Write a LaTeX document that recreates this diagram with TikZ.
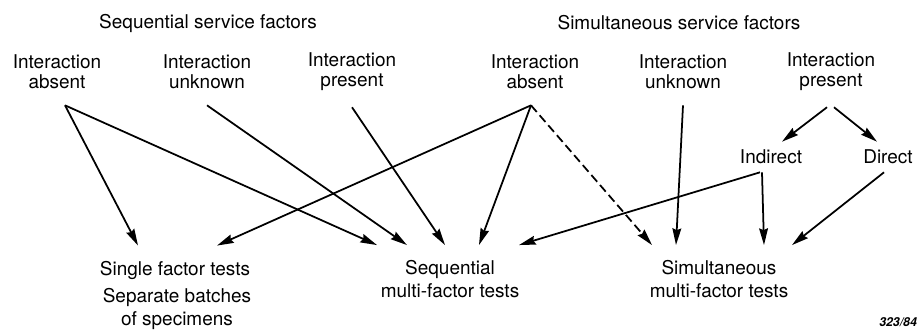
\documentclass[tikz,border=0pt]{standalone}
\usepackage{fontspec}
\setmainfont{TeX Gyre Heros}
\usetikzlibrary{arrows.meta, calc}
\tikzset{
  hd/.style   = {font=\fontsize{10.8pt}{12pt}\selectfont, align=center},
  fac/.style  = {font=\fontsize{10.8pt}{11.5pt}\selectfont, align=center,
                 inner xsep=2pt, inner ysep=9pt},
  sub/.style  = {font=\fontsize{10.8pt}{12pt}\selectfont, align=center,
                 inner xsep=2pt, inner ysep=4.5pt},
  res/.style  = {font=\fontsize{10.8pt}{13pt}\selectfont, align=center,
                 inner xsep=2pt, inner ysep=8.5pt},
  arr/.style  = {-{Stealth[length=9.5pt,width=5pt,inset=1pt]}, line width=1pt},
  darr/.style = {arr, dash pattern=on 5pt off 2.5pt},
}
\begin{document}
\begin{tikzpicture}[x=0.02cm, y=-0.02cm]
  \useasboundingbox (0,0) rectangle (919,331);

  \node[hd] (seqhd) at (208,23) {Sequential service factors};
  \node[hd] (simhd) at (679,23) {Simultaneous service factors};

  \node[fac] (qabs) at (57,72)  {Interaction\\absent};
  \node[fac] (qunk) at (207,72) {Interaction\\unknown};
  \node[fac] (qpre) at (352,72) {Interaction\\present};
  \node[fac] (mabs) at (535,72) {Interaction\\absent};
  \node[fac] (munk) at (683,72) {Interaction\\unknown};
  \node[fac] (mpre) at (831,72) {Interaction\\present};

  \node[sub] (ind) at (771,157) {Indirect};
  \node[sub] (dir) at (888,157) {Direct};

  \node[res] (single) at (175,270) {Single factor tests};
  \node[font=\fontsize{10.8pt}{13.2pt}\selectfont, align=center]
    (batch) at (177,309) {Separate batches\\of specimens};
  \node[res] (seqmf) at (450,279) {Sequential\\multi-factor tests};
  \node[res] (simmf) at (719,279) {Simultaneous\\multi-factor tests};

  \node[font=\fontsize{7pt}{8pt}\selectfont\bfseries\itshape, anchor=east,
        inner sep=1pt] (figno) at (919,322) {323/84};

  % sequential factors
  \draw[arr] ($(qabs.south)+(8,0)$) -- ($(single.north)+(-37,0)$);
  \draw[arr] ($(qabs.south)+(8,0)$) -- ($(seqmf.north)+(-73,0)$);
  \draw[arr] (qunk.south) -- ($(seqmf.north)+(-43,0)$);
  \draw[arr] (qpre.south) -- ($(seqmf.north)+(-5,0)$);

  % simultaneous factors
  \draw[arr]  ($(mabs.south)+(-4,0)$) -- ($(single.north)+(42,0)$);
  \draw[arr]  ($(mabs.south)+(-4,0)$) -- ($(seqmf.north)+(29,0)$);
  \draw[darr] ($(mabs.south)+(-4,0)$) -- ($(simmf.north)+(-67,0)$);
  \draw[arr]  (munk.south) -- ($(simmf.north)+(-43,0)$);
  \draw[arr]  ($(mpre.south)+(-4,0)$) -- ($(ind.north)+(11,0)$);
  \draw[arr]  ($(mpre.south)+(3,0)$) -- ($(dir.north)+(-11,0)$);
  \draw[arr]  ($(ind.south)+(-11,0)$) -- ($(seqmf.north)+(69,0)$);
  \draw[arr]  ($(ind.south)+(-9,0)$) -- ($(simmf.north)+(45,0)$);
  \draw[arr]  ($(dir.south)+(-4,0)$) -- ($(simmf.north)+(73,0)$);
\end{tikzpicture}
\end{document}
